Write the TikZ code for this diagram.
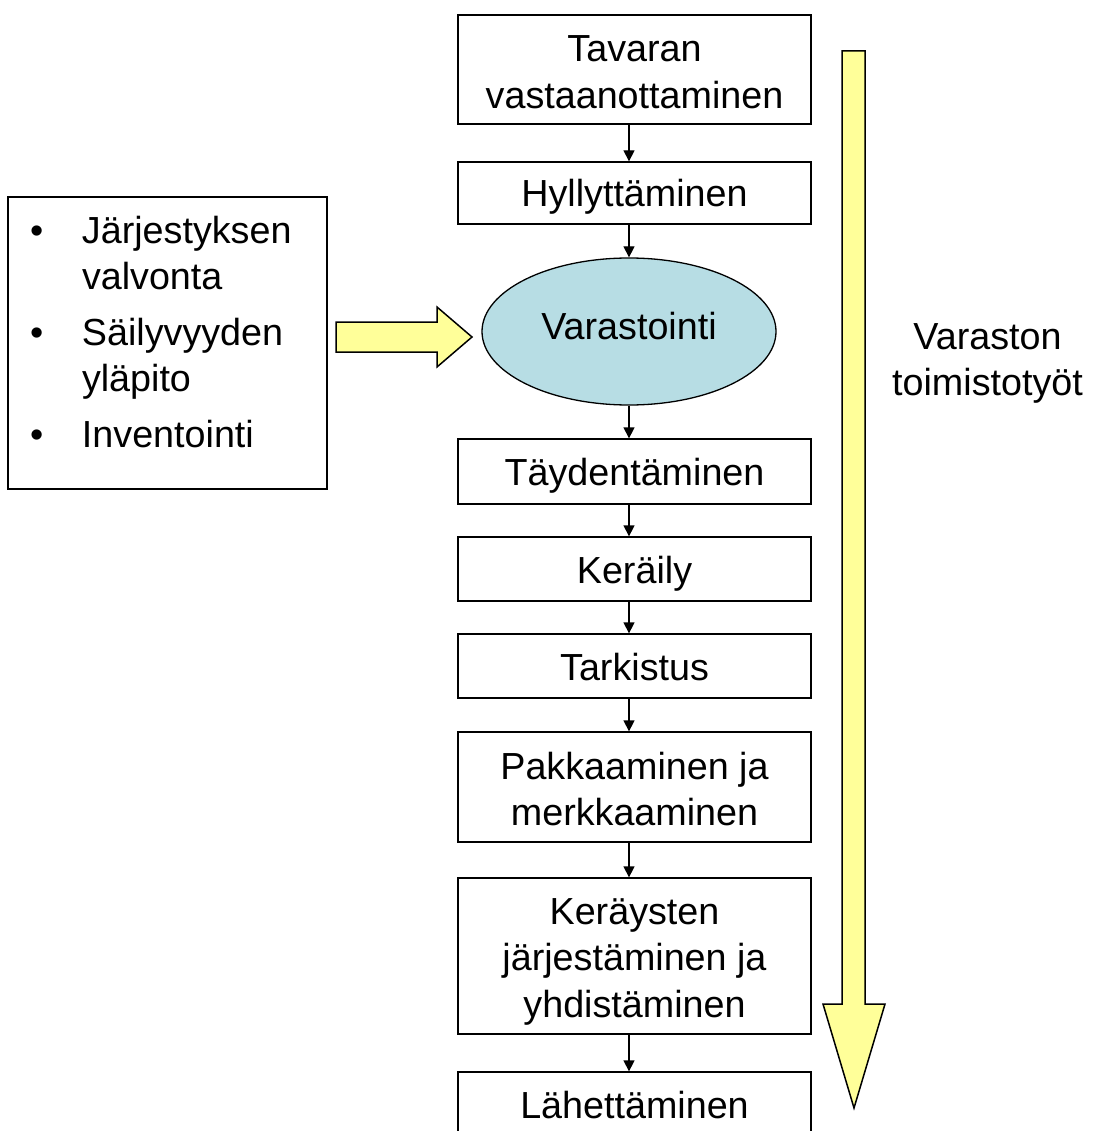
\documentclass[tikz,border=0pt]{standalone}
\usepackage{fontspec}
\setmainfont{Liberation Sans}
\usetikzlibrary{arrows.meta,shapes.geometric}
\definecolor{arrowyellow}{RGB}{255,255,153}
\definecolor{storeblue}{RGB}{183,221,228}
\tikzset{
  stepbox/.style={draw, line width=1.3pt, minimum width=353pt, inner sep=0pt, align=center},
  oneline/.style={stepbox, minimum height=64pt, text height=28pt, text depth=0pt},
  listbox/.style={draw, line width=1.3pt, minimum width=319pt, minimum height=292pt, inner sep=0pt},
  bigarrow/.style={draw, line width=1.5pt, fill=arrowyellow, line join=miter},
}
\begin{document}
\begin{tikzpicture}[x=1pt, y=-1pt, font=\fontsize{37.7}{46.5}\selectfont]
  \useasboundingbox (0,0) rectangle (1093,1131);
  % big yellow arrows
  \draw[bigarrow] (842,51) -- (865,51) -- (865,1004) -- (885,1004)
    -- (854,1108) -- (823,1004) -- (842,1004) -- cycle;
  \draw[bigarrow] (336,322) -- (437,322) -- (437,307) -- (472,337)
    -- (437,367) -- (437,352) -- (336,352) -- cycle;
  \draw
    (634.5,69.5) node[stepbox, minimum height=109pt] (recv) {\rule{0pt}{31pt}Tavaran\\vastaanottaminen}
    (634.5,193) node[oneline, minimum height=62pt] (shelf) {Hyllyttäminen}
    (629,331.5) node[ellipse, draw, line width=1.3pt, fill=storeblue, minimum width=294pt,
      minimum height=147pt, inner sep=0pt, text depth=12pt] (store) {Varastointi}
    (634.5,471.5) node[oneline, minimum height=65pt] (fill) {Täydentäminen}
    (634.5,569) node[oneline] (pick) {Keräily}
    (634.5,666) node[oneline] (check) {Tarkistus}
    (634.5,787) node[stepbox, minimum height=110pt] (pack) {\rule{0pt}{31pt}Pakkaaminen ja\\merkkaaminen}
    (634.5,956) node[stepbox, minimum height=156pt] (merge) {\rule{0pt}{37pt}Keräysten\\järjestäminen ja\\yhdistäminen}
    (634.5,1104) node[oneline] (ship) {Lähettäminen}
    (987.5,363.5) node[align=center] (office) {Varaston\\toimistotyöt};
  \node[listbox] (tasks) at (167.5,343) {%
    \renewcommand{\arraystretch}{0.99}%
    \begin{tabular}{@{}p{52pt}@{}p{223pt}@{}}
      \textbullet & Järjestyksen\\
                  & valvonta\\[10pt]
      \textbullet & Säilyvyyden\\
                  & yläpito\\[10pt]
      \textbullet & Inventointi\\[14pt]
    \end{tabular}};
  \begin{scope}[line width=1.3pt, -{Triangle[width=11pt,length=11pt]}]
    \draw (recv.south -| store) to (shelf.north -| store);
    \draw (shelf.south -| store) to (store.north);
    \draw (store.south) to (fill.north -| store);
    \draw (fill.south -| store) to (pick.north -| store);
    \draw (pick.south -| store) to (check.north -| store);
    \draw (check.south -| store) to (pack.north -| store);
    \draw (pack.south -| store) to (merge.north -| store);
    \draw (merge.south -| store) to (ship.north -| store);
  \end{scope}
\end{tikzpicture}
\end{document}
